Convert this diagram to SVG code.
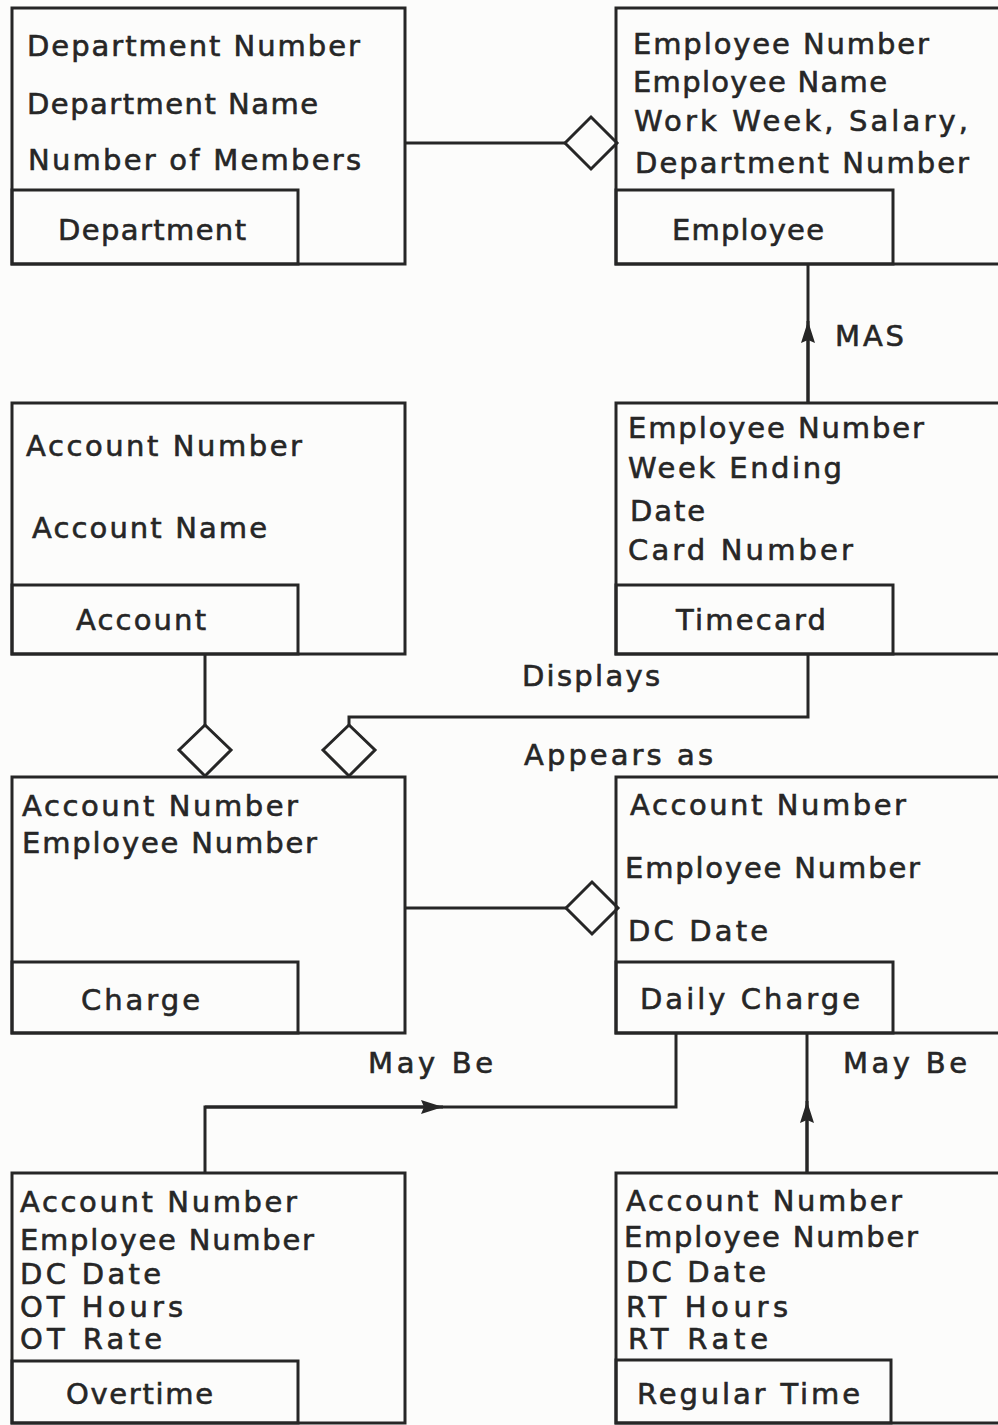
<svg xmlns="http://www.w3.org/2000/svg" width="998" height="1425" viewBox="0 0 998 1425">
  <style>
    .bg { fill: #fcfcfb; }
    .box { fill: none; stroke: #262626; stroke-width: 3; }
    .wire { fill: none; stroke: #262626; stroke-width: 3; }
    .dia { fill: #fcfcfb; stroke: #262626; stroke-width: 3; stroke-linejoin: miter; }
    text { font-family: "DejaVu Sans", "Liberation Sans", sans-serif; font-size: 29px; fill: #262626; stroke: #262626; stroke-width: 0.6; }
  </style>
  <defs>
    <marker id="arrow" viewBox="0 0 22 14" refX="22" refY="7" markerWidth="22" markerHeight="14" markerUnits="userSpaceOnUse" orient="auto">
      <path d="M0,0 L22,7 L0,14 L3,7 Z" fill="#262626"/>
    </marker>
  </defs>
  <rect class="bg" x="0" y="0" width="998" height="1425"/>

  <!-- relationships -->
  <g id="connectors">
    <!-- Department to Employee -->
    <line class="wire" x1="405" y1="143" x2="566" y2="143"/>
    <polygon class="dia" points="565,143 591,117 617,143 591,169"/>
    <!-- Timecard MAS Employee -->
    <line class="wire" x1="808" y1="403" x2="808" y2="264"/>
    <line class="wire" x1="808" y1="403" x2="808" y2="321" marker-end="url(#arrow)"/>
    <text x="835" y="346" textLength="69" lengthAdjust="spacing">MAS</text>
    <!-- Account to Charge -->
    <line class="wire" x1="205" y1="654" x2="205" y2="726"/>
    <polygon class="dia" points="179,750 205,725 231,750 205,776"/>
    <!-- Timecard displays / appears as Charge -->
    <polyline class="wire" points="808,654 808,717 349,717 349,726"/>
    <polygon class="dia" points="323,750 349,725 375,750 349,776"/>
    <text x="522" y="686" textLength="138" lengthAdjust="spacing">Displays</text>
    <text x="524" y="765" textLength="189" lengthAdjust="spacing">Appears as</text>
    <!-- Charge to Daily Charge -->
    <line class="wire" x1="405" y1="908" x2="567" y2="908"/>
    <polygon class="dia" points="566,908 592,882 618,908 592,934"/>
    <!-- Overtime may be Daily Charge -->
    <polyline class="wire" points="205,1173 205,1107 676,1107 676,1033"/>
    <line class="wire" x1="205" y1="1107" x2="443" y2="1107" marker-end="url(#arrow)"/>
    <text x="368" y="1073" textLength="125" lengthAdjust="spacing">May Be</text>
    <!-- Regular Time may be Daily Charge -->
    <line class="wire" x1="807" y1="1173" x2="807" y2="1033"/>
    <line class="wire" x1="807" y1="1173" x2="807" y2="1101" marker-end="url(#arrow)"/>
    <text x="843" y="1073" textLength="124" lengthAdjust="spacing">May Be</text>
  </g>

  <g id="department">
    <rect class="box" x="12" y="8" width="393" height="256"/>
    <rect class="box" x="12" y="190" width="286" height="74"/>
    <text x="27" y="56" textLength="333" lengthAdjust="spacing">Department Number</text>
    <text x="27" y="114" textLength="291" lengthAdjust="spacing">Department Name</text>
    <text x="28" y="170" textLength="333" lengthAdjust="spacing">Number of Members</text>
    <text x="58" y="240" textLength="188" lengthAdjust="spacing">Department</text>
  </g>

  <g id="employee">
    <rect class="box" x="616" y="8" width="400" height="256"/>
    <rect class="box" x="616" y="190" width="277" height="74"/>
    <text x="633" y="54" textLength="296" lengthAdjust="spacing">Employee Number</text>
    <text x="633" y="92" textLength="254" lengthAdjust="spacing">Employee Name</text>
    <text x="634" y="131" textLength="334" lengthAdjust="spacing">Work Week, Salary,</text>
    <text x="635" y="173" textLength="334" lengthAdjust="spacing">Department Number</text>
    <text x="672" y="240" textLength="152" lengthAdjust="spacing">Employee</text>
  </g>

  <g id="account">
    <rect class="box" x="12" y="403" width="393" height="251"/>
    <rect class="box" x="12" y="585" width="286" height="69"/>
    <text x="26" y="456" textLength="276" lengthAdjust="spacing">Account Number</text>
    <text x="32" y="538" textLength="235" lengthAdjust="spacing">Account Name</text>
    <text x="76" y="630" textLength="130" lengthAdjust="spacing">Account</text>
  </g>

  <g id="timecard">
    <rect class="box" x="616" y="403" width="400" height="251"/>
    <rect class="box" x="616" y="585" width="277" height="69"/>
    <text x="628" y="438" textLength="296" lengthAdjust="spacing">Employee Number</text>
    <text x="628" y="478" textLength="214" lengthAdjust="spacing">Week Ending</text>
    <text x="630" y="521" textLength="75" lengthAdjust="spacing">Date</text>
    <text x="628" y="560" textLength="225" lengthAdjust="spacing">Card Number</text>
    <text x="676" y="630" textLength="150" lengthAdjust="spacing">Timecard</text>
  </g>

  <g id="charge">
    <rect class="box" x="12" y="777" width="393" height="256"/>
    <rect class="box" x="12" y="962" width="286" height="71"/>
    <text x="22" y="816" textLength="276" lengthAdjust="spacing">Account Number</text>
    <text x="22" y="853" textLength="295" lengthAdjust="spacing">Employee Number</text>
    <text x="81" y="1010" textLength="119" lengthAdjust="spacing">Charge</text>
  </g>

  <g id="daily-charge">
    <rect class="box" x="616" y="777" width="400" height="256"/>
    <rect class="box" x="616" y="962" width="277" height="71"/>
    <text x="630" y="815" textLength="276" lengthAdjust="spacing">Account Number</text>
    <text x="625" y="878" textLength="295" lengthAdjust="spacing">Employee Number</text>
    <text x="628" y="941" textLength="140" lengthAdjust="spacing">DC Date</text>
    <text x="640" y="1009" textLength="220" lengthAdjust="spacing">Daily Charge</text>
  </g>

  <g id="overtime">
    <rect class="box" x="12" y="1173" width="393" height="250"/>
    <rect class="box" x="12" y="1361" width="286" height="62"/>
    <text x="20" y="1212" textLength="277" lengthAdjust="spacing">Account Number</text>
    <text x="20" y="1250" textLength="294" lengthAdjust="spacing">Employee Number</text>
    <text x="20" y="1284" textLength="141" lengthAdjust="spacing">DC Date</text>
    <text x="20" y="1317" textLength="163" lengthAdjust="spacing">OT Hours</text>
    <text x="20" y="1349" textLength="142" lengthAdjust="spacing">OT Rate</text>
    <text x="66" y="1404" textLength="147" lengthAdjust="spacing">Overtime</text>
  </g>

  <g id="regular-time">
    <rect class="box" x="616" y="1173" width="400" height="250"/>
    <rect class="box" x="616" y="1360" width="275" height="63"/>
    <text x="626" y="1211" textLength="276" lengthAdjust="spacing">Account Number</text>
    <text x="624" y="1247" textLength="294" lengthAdjust="spacing">Employee Number</text>
    <text x="626" y="1282" textLength="140" lengthAdjust="spacing">DC Date</text>
    <text x="626" y="1317" textLength="162" lengthAdjust="spacing">RT Hours</text>
    <text x="628" y="1349" textLength="140" lengthAdjust="spacing">RT Rate</text>
    <text x="637" y="1404" textLength="223" lengthAdjust="spacing">Regular Time</text>
  </g>
</svg>
